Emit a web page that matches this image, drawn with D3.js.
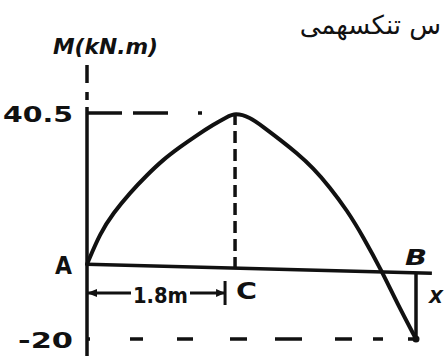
<!DOCTYPE html>
<html>
<head>
<meta charset="utf-8">
<script src="https://cdn.jsdelivr.net/npm/d3@7"></script>
<style>
  body { margin: 0; background: #fff; }
  svg { display: block; }
  text { font-family: "DejaVu Sans", sans-serif; font-weight: bold; fill: #111; }
</style>
</head>
<body>
<svg id="chart" width="444" height="356"></svg>
<script>
// beam length positions (m) and bending moment (kN.m)
var posX = [0, 0.16, 0.32, 0.52, 0.73, 0.92, 1.13, 1.34, 1.53, 1.70, 1.80, 1.98, 2.14, 2.35, 2.55, 2.75, 2.95, 3.16, 3.36, 3.59, 3.77, 4.0];
var moment = [0, 8.4, 13.7, 19.1, 23.9, 27.9, 31.4, 34.6, 37.3, 39.4, 40.5, 39.4, 36.8, 33.3, 29.8, 25.8, 20.7, 14.5, 7.3, -2.1, -10.4, -20];
var yTicks = [40.5, -20];
var points = [{name: "A", x: 0, m: 0}, {name: "C", x: 1.8, m: 40.5}, {name: "B", x: 4, m: -20}];
var spanLabel = "1.8m";

var svg = d3.select("#chart");
var ink = "#111";

var x = d3.scaleLinear().domain([0, 4]).range([87, 416]);
var y = d3.scaleLinear().domain([-20, 40.5]).range([339, 113]);

var A = points[0], C = points[1], B = points[2];

// title fragment at the top right
svg.append("text")
	.attr("x", 441).attr("y", 34)
	.attr("text-anchor", "end")
	.style("font-size", "26px")
	.style("font-weight", "normal")
	.text("س تنکسهمی");

// y axis: dashed stub above, solid below
svg.append("line")
	.attr("x1", x(0)).attr("x2", x(0))
	.attr("y1", 65).attr("y2", 356)
	.attr("stroke", ink).attr("stroke-width", 3.5)
	.attr("stroke-dasharray", "18,9,8,7,400");

svg.append("text")
	.attr("x", 53).attr("y", 54)
	.attr("textLength", 105)
	.attr("lengthAdjust", "spacingAndGlyphs")
	.style("font-size", "21px")
	.style("font-style", "italic")
	.text("M(kN.m)");

// tick labels through a d3 axis
var yAxis = d3.axisLeft(y).tickValues(yTicks).tickSize(0).tickPadding(14)
	.tickFormat(function(d){ return String(d); });
var gAxis = svg.append("g").attr("transform", "translate(" + x(0) + ",0)").call(yAxis);
gAxis.select(".domain").remove();
gAxis.selectAll("text")
	.attr("dy", "0.4em")
	.attr("font-family", null)
	.attr("font-size", null)
	.attr("textLength", function(d){ return d > 0 ? 70 : 55; })
	.attr("lengthAdjust", "spacingAndGlyphs")
	.style("font-size", "21px");

// x axis (drawn slightly sloped, like the sketch)
svg.append("line")
	.attr("x1", x(0)).attr("x2", 432)
	.attr("y1", y(0)).attr("y2", y(0))
	.attr("stroke", ink).attr("stroke-width", 3.5)
	.attr("transform", "rotate(1.5," + x(0) + "," + y(0) + ")");

// dashed guide at max moment
svg.append("line")
	.attr("x1", x(0)).attr("x2", x(C.x))
	.attr("y1", y(C.m)).attr("y2", y(C.m))
	.attr("stroke", ink).attr("stroke-width", 3.5)
	.attr("stroke-dasharray", "35,11,35,30,4,60");

// dashed guide down from C
svg.append("line")
	.attr("x1", x(C.x)).attr("x2", x(C.x))
	.attr("y1", y(C.m)).attr("y2", y(0) + 5)
	.attr("stroke", ink).attr("stroke-width", 3.5)
	.attr("stroke-dasharray", "12,6");

// dashed guide at -20
svg.append("line")
	.attr("x1", x(0)).attr("x2", x(B.x))
	.attr("y1", y(B.m)).attr("y2", y(B.m))
	.attr("stroke", ink).attr("stroke-width", 3.5)
	.attr("stroke-dasharray", "3,40,13,34,16,37,17,28,27,33,17,21,10,25,7");

// vertical at B
svg.append("line")
	.attr("x1", x(B.x)).attr("x2", x(B.x))
	.attr("y1", y(0) + 9).attr("y2", y(B.m))
	.attr("stroke", ink).attr("stroke-width", 3.5);

// moment curve
var line = d3.line()
	.x(function(d){ return x(d[0]); })
	.y(function(d){ return y(d[1]); })
	.curve(d3.curveBasis);

svg.append("path")
	.datum(d3.zip(posX, moment))
	.attr("d", line)
	.attr("fill", "none")
	.attr("stroke", ink)
	.attr("stroke-width", 4)
	.attr("stroke-linejoin", "round")
	.attr("stroke-linecap", "round");

svg.append("circle")
	.attr("cx", x(B.x)).attr("cy", y(B.m))
	.attr("r", 3.5).attr("fill", ink);

// dimension A-C
var dimY = 293;
svg.append("line")
	.attr("x1", x(0)).attr("x2", x(C.x) - 10)
	.attr("y1", dimY).attr("y2", dimY)
	.attr("stroke", ink).attr("stroke-width", 3);
svg.append("path")
	.attr("d", "M" + x(0) + "," + dimY + "l10,-4v8z")
	.attr("fill", ink);
svg.append("path")
	.attr("d", "M" + (x(C.x) - 10) + "," + dimY + "l-9,-4v8z")
	.attr("fill", ink);
svg.append("line")
	.attr("x1", x(C.x) - 10).attr("x2", x(C.x) - 10)
	.attr("y1", 281).attr("y2", 305)
	.attr("stroke", ink).attr("stroke-width", 3);
svg.append("rect")
	.attr("x", 131).attr("y", 282).attr("width", 59).attr("height", 22)
	.attr("fill", "#fff");
svg.append("text")
	.attr("x", 133).attr("y", 303)
	.attr("textLength", 55)
	.attr("lengthAdjust", "spacingAndGlyphs")
	.style("font-size", "22px")
	.text(spanLabel);

// point labels
svg.append("text").attr("x", 55).attr("y", 274)
	.attr("textLength", 17).attr("lengthAdjust", "spacingAndGlyphs")
	.style("font-size", "24px").text(A.name);
svg.append("text").attr("x", 236).attr("y", 299)
	.attr("textLength", 21).attr("lengthAdjust", "spacingAndGlyphs")
	.style("font-size", "23px").text(C.name);
svg.append("text").attr("x", 405).attr("y", 265)
	.attr("textLength", 22).attr("lengthAdjust", "spacingAndGlyphs")
	.style("font-size", "22px").style("font-style", "italic").text(B.name);
svg.append("text").attr("x", 429).attr("y", 303)
	.style("font-size", "18px").style("font-style", "italic").text("X");
</script>
</body>
</html>
